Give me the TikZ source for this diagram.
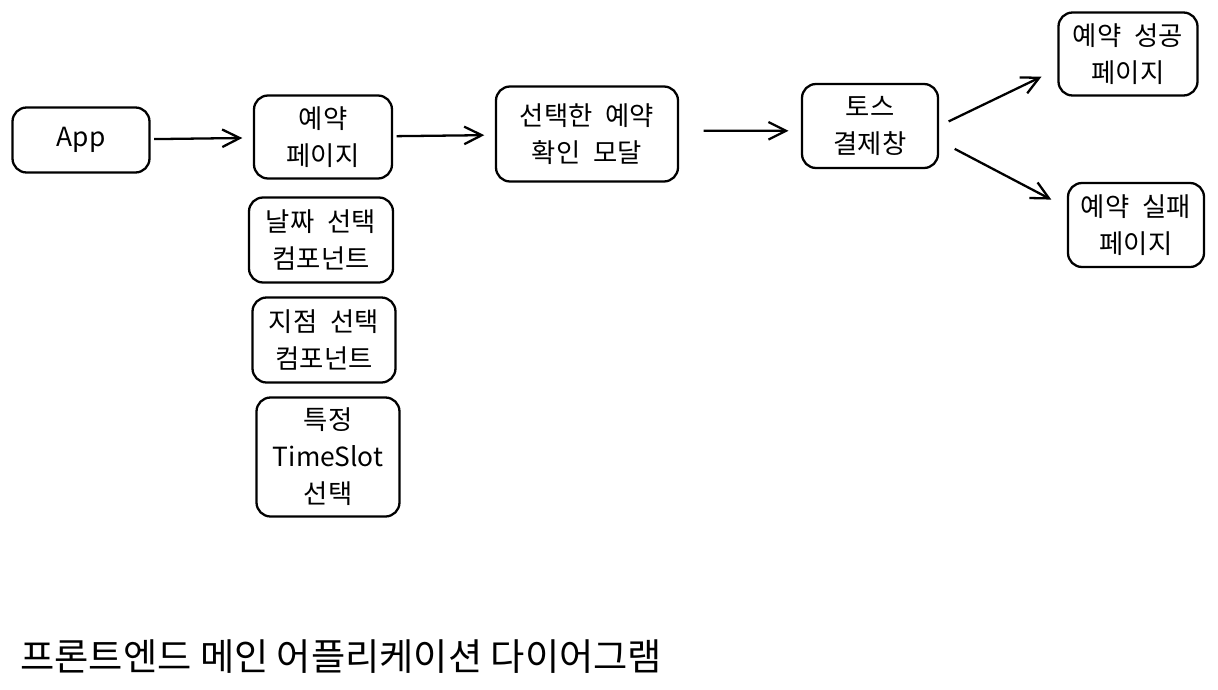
\documentclass[tikz,border=0pt]{standalone}
\usepackage{fontspec}
\setmainfont{Noto Sans CJK KR}
\usetikzlibrary{arrows.meta,shapes}
\newcommand\wordgap{\spaceskip=0.5em\relax}
\tikzstyle{box}=[draw,rounded corners=8pt,line width=1.3pt,align=center,inner sep=2pt,font={\fontsize{15}{21}\selectfont\wordgap}]
\tikzstyle{flow} = [draw,line width=1.3pt,-{Straight Barb[length=10pt,width=10pt,line width=1.3pt]}]

\begin{document}
\begin{tikzpicture}[x=0.02cm,y=-0.02cm]
    \useasboundingbox (0,0) rectangle (1218,690);
    % Pages and components of the app
    \foreach \pos/\name/\w/\h/\txt in {{(81,140)/app/137/65/App},
        {(323,137)/resv/138/83/예약\\페이지},
        {(587,134)/confirm/182/95/선택한 예약\\확인 모달},
        {(870,126)/toss/136/84/토스\\결제창},
        {(1128,54)/success/139/83/예약 성공\\페이지},
        {(1136,225)/fail/136/84/예약 실패\\페이지},
        {(321,240)/date/144/85/날짜 선택\\컴포넌트},
        {(324,340)/branch/143/85/지점 선택\\컴포넌트},
        {(328,457)/slot/143/119/특정\\TimeSlot\\선택}}
        \node[box,minimum width=\w*0.02cm,minimum height=\h*0.02cm] (\name) at \pos {\txt};
    % Flow between pages
    \path[flow,shorten <=2pt,shorten >=6pt] (app) -- (resv);
    \path[flow,shorten <=2pt,shorten >=6pt] (resv) -- (confirm);
    \path[flow,shorten <=14pt,shorten >=7pt] (confirm.2) -- (toss.184);
    \path[flow,shorten <=6pt,shorten >=10pt] (toss.east) -- (success.192);
    \path[flow,shorten <=10pt,shorten >=10pt] (toss.-12) -- (fail.166);
    % Caption
    \node[anchor=west,inner sep=0pt,font=\fontsize{21.2}{25}\selectfont] (title) at (20,657) {프론트엔드 메인 어플리케이션 다이어그램};
\end{tikzpicture}
\end{document}
